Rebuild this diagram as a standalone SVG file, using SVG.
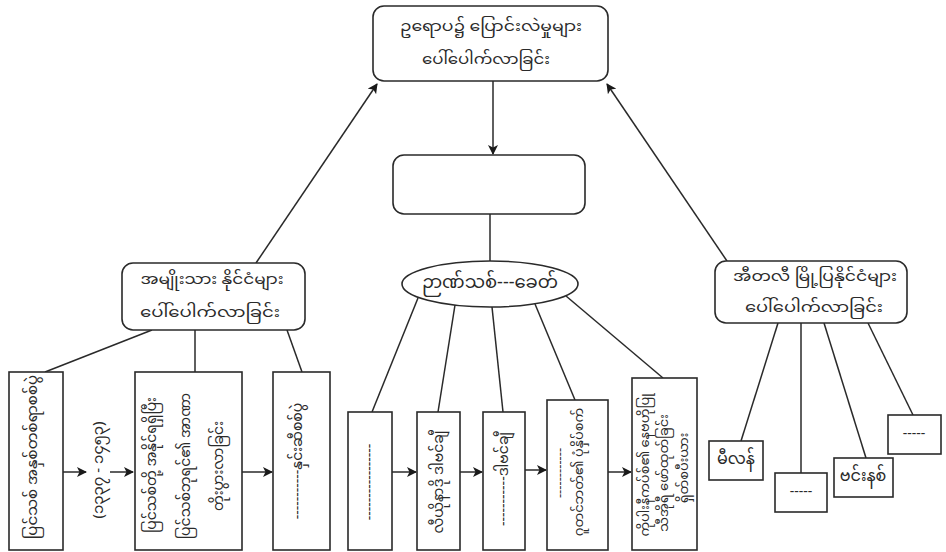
<svg xmlns="http://www.w3.org/2000/svg" width="946" height="552" viewBox="0 0 946 552">
<defs>
<marker id="ah" viewBox="0 0 10 10" refX="9" refY="5" markerWidth="10" markerHeight="10" markerUnits="userSpaceOnUse" orient="auto">
<path d="M0,0 L10,5 L0,10 L2.5,5 z" fill="#1a1a1a"/>
</marker>
<style>
.bx{fill:#fff;stroke:#2a2a2a;stroke-width:1.6}
.ln{fill:none;stroke:#2a2a2a;stroke-width:1.5}
.ar{fill:none;stroke:#2a2a2a;stroke-width:1.5;marker-end:url(#ah)}
.t{font-family:"Noto Sans Myanmar","Padauk","Myanmar Text","Noto Sans",sans-serif;fill:#2a2a2a;text-anchor:middle;dominant-baseline:central}
.big{font-size:16px}
.n2{font-size:14.5px}
.n3{font-size:14px}
.mid{font-size:15px}
.el{font-size:18px}
.vl{font-size:15px}
.v{font-size:14px}
.vs{font-size:13px}
</style>
</defs>
<rect width="946" height="552" fill="#fff"/>

<g id="connectors">
<line class="ar" x1="493" y1="81" x2="493" y2="154"/>
<line class="ln" x1="490" y1="214" x2="490" y2="261"/>
<line class="ar" x1="256" y1="263" x2="377" y2="84"/>
<line class="ar" x1="727" y1="261" x2="607" y2="84"/>
<line class="ln" x1="152" y1="330" x2="45" y2="372"/>
<line class="ln" x1="195" y1="330" x2="195" y2="372"/>
<line class="ln" x1="287" y1="330" x2="302" y2="372"/>
<line class="ar" x1="63" y1="472" x2="86" y2="472"/>
<line class="ar" x1="110" y1="472" x2="133" y2="472"/>
<line class="ar" x1="242" y1="472" x2="272" y2="472"/>
<line class="ln" x1="418" y1="298" x2="372" y2="412"/>
<line class="ln" x1="455" y1="305" x2="438" y2="412"/>
<line class="ln" x1="492" y1="307" x2="503" y2="412"/>
<line class="ln" x1="535" y1="304" x2="575" y2="400"/>
<line class="ln" x1="566" y1="296" x2="663" y2="378"/>
<line class="ar" x1="392" y1="472" x2="416" y2="472"/>
<line class="ar" x1="460" y1="472" x2="482" y2="472"/>
<line class="ar" x1="525" y1="470" x2="546" y2="470"/>
<line class="ar" x1="608" y1="472" x2="631" y2="472"/>
<line class="ln" x1="778" y1="323" x2="741" y2="441"/>
<line class="ln" x1="801" y1="323" x2="801" y2="473"/>
<line class="ln" x1="824" y1="323" x2="866" y2="458"/>
<line class="ln" x1="868" y1="323" x2="913" y2="415"/>
</g>

<g id="n-top">
<rect class="bx" x="373" y="6" width="235" height="75" rx="11"/>
<text class="t mid" x="491" y="27" textLength="182" lengthAdjust="spacingAndGlyphs">ဥရောပ၌ ပြောင်းလဲမှုများ</text>
<text class="t mid" x="486" y="60" textLength="128" lengthAdjust="spacingAndGlyphs">ပေါ်ပေါက်လာခြင်း</text>
</g>

<g id="n-center">
<rect class="bx" x="393" y="155" width="192" height="59" rx="11"/>
</g>

<g id="n-nation">
<rect class="bx" x="122" y="263" width="183" height="67" rx="11"/>
<text class="t n2" x="212" y="280" textLength="143" lengthAdjust="spacingAndGlyphs">အမျိုးသား နိုင်ငံများ</text>
<text class="t n2" x="210" y="313" textLength="140" lengthAdjust="spacingAndGlyphs">ပေါ်ပေါက်လာခြင်း</text>
</g>

<g id="n-renaissance">
<ellipse class="bx" cx="490" cy="284" rx="88" ry="23"/>
<text class="t el" x="490" y="283">ဉာဏ်သစ်---ခေတ်</text>
</g>

<g id="n-italy">
<rect class="bx" x="715" y="261" width="192" height="62" rx="11"/>
<text class="t n3" x="815" y="277" textLength="164" lengthAdjust="spacingAndGlyphs">အီတလီ မြို့ပြနိုင်ငံများ</text>
<text class="t n3" x="814" y="308" textLength="138" lengthAdjust="spacingAndGlyphs">ပေါ်ပေါက်လာခြင်း</text>
</g>

<g id="n-b1">
<rect class="bx" x="9" y="372" width="54" height="178"/>
<text class="t vl" transform="translate(33,457) rotate(-90)">ပြင်သစ် အနှစ်တစ်ရာစစ်ပွဲ</text>
</g>

<g id="n-b1-label">
<text class="t vl" transform="translate(99,470) rotate(-90)">(၁၃၃၇ - ၁၄၅၃)</text>
</g>

<g id="n-b2">
<rect class="bx" x="135" y="372" width="107" height="178"/>
<text class="t v" transform="translate(152,465) rotate(-90)">ပြင်သစ်တို့ အနိုင်ရရှိပြီး</text>
<text class="t v" transform="translate(186,466) rotate(-90)">ပြင်သစ်ဘုရင်၏ အာဏာ</text>
<text class="t v" transform="translate(219,466) rotate(-90)">တိုးပွားလာခြင်း</text>
</g>

<g id="n-b3">
<rect class="bx" x="273" y="372" width="57" height="178"/>
<text class="t v" transform="translate(298,461) rotate(-90)">-----------နှင်းဆီစစ်ပွဲ</text>
</g>

<g id="n-m1">
<rect class="bx" x="348" y="412" width="44" height="138"/>
<text class="t v" transform="translate(370,482) rotate(-90)">-----------------</text>
</g>

<g id="n-m2">
<rect class="bx" x="417" y="412" width="43" height="138"/>
<text class="t v" transform="translate(439,482) rotate(-90)">လီယိုနာဒို ဒါဗင်ချီ</text>
</g>

<g id="n-m3">
<rect class="bx" x="483" y="412" width="42" height="138"/>
<text class="t v" transform="translate(504,479) rotate(-90)">-----------ဒါဗင်ချီ</text>
</g>

<g id="n-m4">
<rect class="bx" x="547" y="400" width="61" height="150"/>
<text class="t vs" transform="translate(561,473) rotate(-90)">------------</text>
<text class="t vs" transform="translate(580,472) rotate(-90)">ဂူတင်ဘတ်၏ ပုံနှိပ်စက်</text>
</g>

<g id="n-m5">
<rect class="bx" x="632" y="378" width="65" height="172"/>
<text class="t vs" transform="translate(646,465) rotate(-90)">ကိုပါးနီကပ်စ်၏ နေဗဟိုပြု</text>
<text class="t vs" transform="translate(665,473) rotate(-90)">သီအိုရီ ဖော်ထုတ်ခြင်း</text>
<text class="t vs" transform="translate(685,468) rotate(-90)">ရှိတ်စပီးယား</text>
</g>

<g id="n-milan">
<rect class="bx" x="709" y="441" width="54" height="39"/>
<text class="t big" x="736" y="460">မီလန်</text>
</g>

<g id="n-blank1">
<rect class="bx" x="775" y="473" width="52" height="39"/>
<text class="t v" x="801" y="492">-----</text>
</g>

<g id="n-venice">
<rect class="bx" x="834" y="458" width="59" height="39"/>
<text class="t big" x="863" y="477">ဗင်းနစ်</text>
</g>

<g id="n-blank2">
<rect class="bx" x="888" y="415" width="53" height="39"/>
<text class="t v" x="914" y="434">-----</text>
</g>
</svg>
